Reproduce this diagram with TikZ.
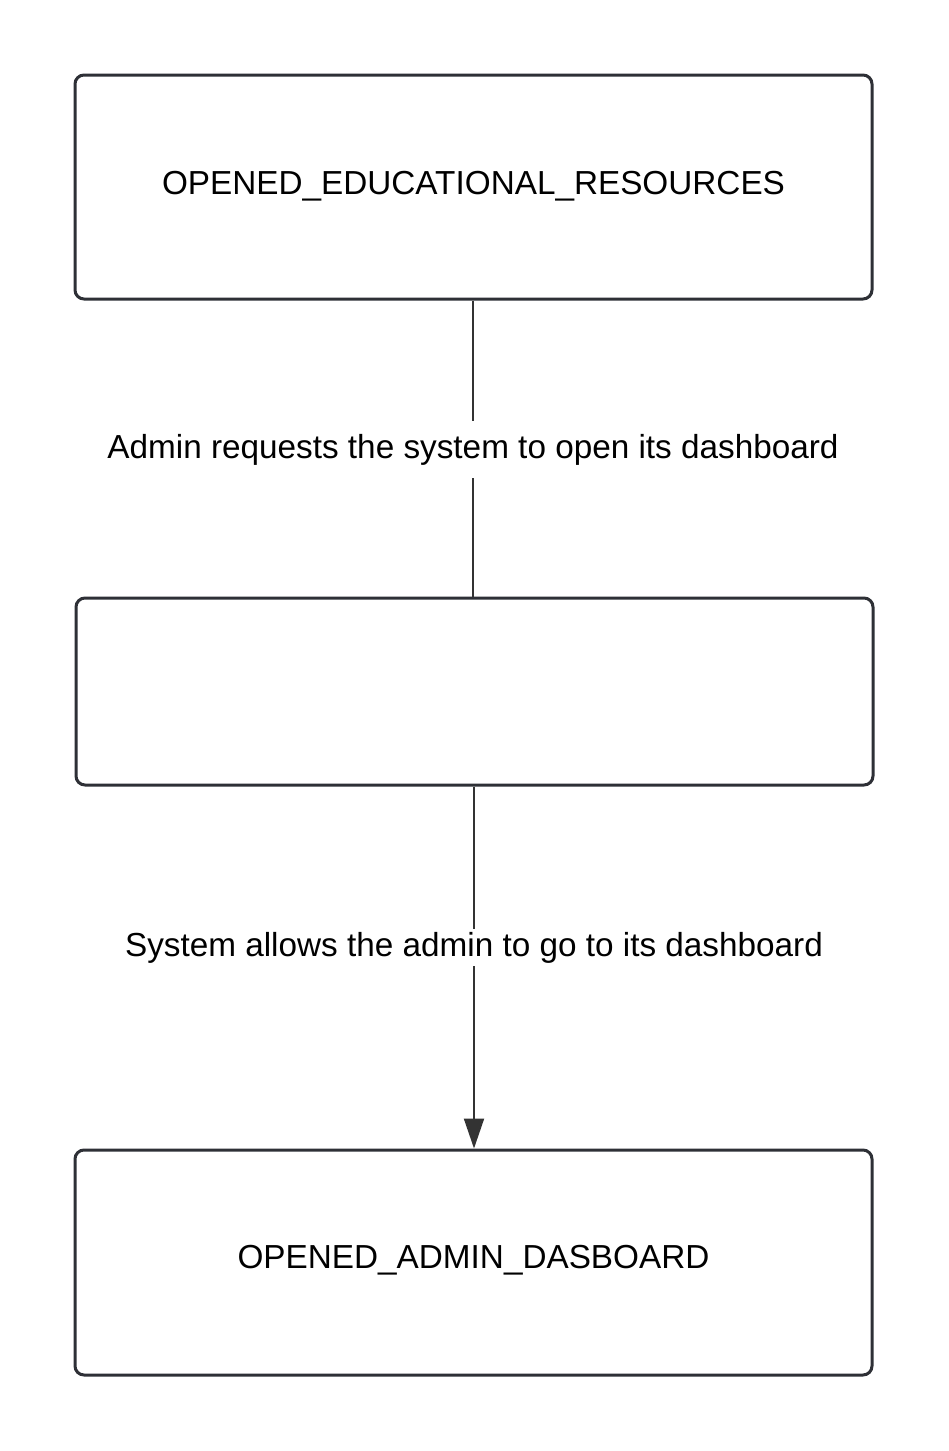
\documentclass[tikz,border=0pt]{standalone}
\usepackage{fontspec}
\setmainfont{Liberation Sans}
\usetikzlibrary{arrows.meta}
\definecolor{edge}{HTML}{2E3036}
\definecolor{conn}{HTML}{333333}
\tikzset{
  statebox/.style={draw=edge, line width=3pt, rounded corners=9pt, fill=white,
    minimum width=797pt, inner sep=0pt},
  boxtext/.style={font=\fontsize{33.3}{40}\selectfont, inner sep=0pt},
  conn/.style={draw=conn, line width=2pt},
  lbl/.style={fill=white, font=\fontsize{33.3}{40}\selectfont, inner xsep=2pt,
    text height=24pt, text depth=7pt}
}
\begin{document}
\begin{tikzpicture}[x=1pt,y=1pt]
\useasboundingbox (0,0) rectangle (949,-1451);
\fill[white] (0,0) rectangle (949,-1451);
\node[statebox, minimum height=224pt] (b1) at (473.5,-187) {};
\node[statebox, minimum height=187pt] (b2) at (474.5,-691.5) {};
\node[statebox, minimum height=225pt] (b3) at (473.5,-1262.5) {};
\node[boxtext] (t1) at (473.5,-186) {OPENED\_EDUCATIONAL\_RESOURCES};
\node[boxtext] (t3) at (473.5,-1260) {OPENED\_ADMIN\_DASBOARD};
\draw[conn] (b1.south -| 473,0) -- (b2.north -| 473,0)
  node[lbl, inner ysep=13pt, pos=0.497, yshift=-2pt] (l1) {Admin requests the system to open its dashboard};
\draw[conn, -{Triangle[length=30pt,width=20pt]}] (b2.south -| 474,0) -- (b3.north -| 474,0)
  node[lbl, inner ysep=3pt, pos=0.44, yshift=-2pt] (l2) {System allows the admin to go to its dashboard};
\end{tikzpicture}
\end{document}
